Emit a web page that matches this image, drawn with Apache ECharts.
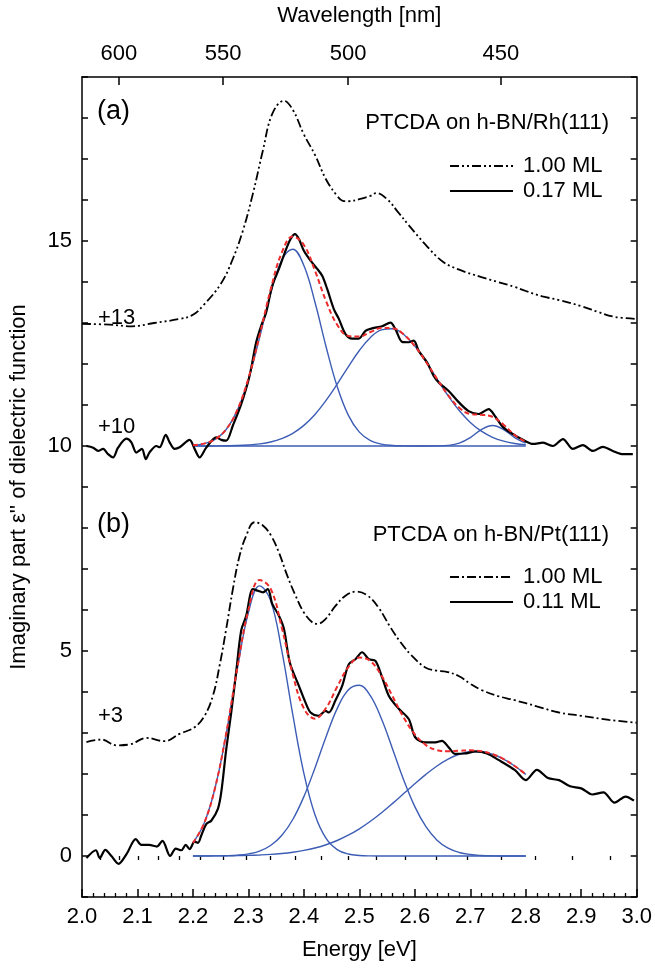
<!DOCTYPE html>
<html><head><meta charset="utf-8">
<script src="https://cdn.jsdelivr.net/npm/echarts@6/dist/echarts.min.js"></script>
<style>html,body{margin:0;padding:0;background:#fff}#c{width:655px;height:969px}</style>
</head><body><div id="c"></div>
<script>
// ---------------- DATA ----------------
// Offsets applied to the curves (as annotated)
const offA100 = 13, offA017 = 10, offB100 = 3, offB011 = 0;

// Panel (a): PTCDA on h-BN/Rh(111), 1.00 ML (raw, before +13)
const a100E = [2.00,2.05,2.09,2.13,2.176,2.20,2.22,2.25,2.27,2.29,2.308,2.326,2.343,2.364,2.38,2.40,2.42,2.44,2.46,2.47,2.48,2.50,2.52,2.53,2.55,2.57,2.59,2.62,2.65,2.68,2.72,2.75,2.78,2.80,2.83,2.86,2.90,2.93,2.96,3.00];
const a100Y = [-0.02,-0.04,-0.08,0.0,0.1,0.2,0.45,0.95,1.5,2.25,3.15,4.2,5.1,5.42,5.2,4.6,4.1,3.5,3.1,2.98,2.97,3.02,3.1,3.17,3.02,2.7,2.37,1.9,1.5,1.3,1.12,1.0,0.88,0.78,0.65,0.56,0.41,0.27,0.15,0.1];

// Panel (a): 0.17 ML (raw, before +10)
const a017E = [2.008,2.020,2.029,2.038,2.047,2.056,2.065,2.080,2.089,2.098,2.108,2.115,2.122,2.134,2.140,2.151,2.158,2.167,2.176,2.194,2.203,2.212,2.224,2.242,2.251,2.260,2.272,2.287,2.302,2.314,2.323,2.332,2.343,2.355,2.368,2.376,2.384,2.391,2.400,2.412,2.424,2.433,2.442,2.454,2.463,2.475,2.487,2.499,2.511,2.523,2.541,2.556,2.565,2.577,2.589,2.598,2.607,2.622,2.634,2.643,2.661,2.679,2.697,2.715,2.733,2.745,2.759,2.777,2.795,2.813,2.831,2.849,2.867,2.885,2.903,2.921,2.939,2.957,2.975,2.993];
const a017Y = [0.0,-0.04,-0.12,-0.07,-0.2,-0.28,-0.04,0.18,0.09,-0.16,-0.07,-0.32,-0.15,0.0,-0.03,0.27,0.09,-0.07,-0.03,0.15,-0.07,-0.28,-0.04,0.21,0.15,0.13,0.5,1.02,1.71,2.53,2.93,3.26,3.91,4.32,4.80,5.05,5.17,5.05,4.76,4.52,4.32,4.15,3.83,3.34,3.1,2.73,2.62,2.62,2.81,2.87,2.92,3.01,2.85,2.54,2.53,2.57,2.32,2.04,1.71,1.55,1.34,1.07,0.85,0.78,0.9,0.72,0.46,0.29,0.15,0.05,0.08,0.0,0.17,-0.07,0.02,-0.12,-0.02,-0.12,-0.2,-0.2];

// Energy grid of the Gaussian fits (both panels)
const fitE = [2.20,2.22,2.24,2.26,2.28,2.30,2.32,2.34,2.36,2.38,2.40,2.42,2.44,2.46,2.48,2.50,2.52,2.54,2.56,2.58,2.60,2.62,2.64,2.66,2.68,2.70,2.72,2.74,2.76,2.78,2.80];
// Panel (a) fit components (above baseline +10)
const aG1 = [0.017,0.057,0.162,0.403,0.869,1.625,2.637,3.712,4.531,4.80,4.40,3.506,2.422,1.45,0.754,0.339,0.133,0.045,0.013,0.004,0.001,0,0,0,0,0,0,0,0,0,0];
const aG2 = [0.000,0.001,0.002,0.005,0.011,0.025,0.051,0.098,0.180,0.310,0.503,0.770,1.111,1.508,1.931,2.329,2.647,2.834,2.86,2.718,2.435,2.056,1.635,1.225,0.865,0.575,0.361,0.213,0.119,0.062,0.031];
const aG3 = [0,0,0,0,0,0,0,0,0,0,0,0,0,0,0,0,0,0,0,0,0,0,0.002,0.014,0.068,0.206,0.40,0.5,0.40,0.206,0.068];
const aFit = [0.017,0.058,0.164,0.408,0.880,1.650,2.688,3.810,4.711,5.110,4.903,4.276,3.533,2.958,2.685,2.668,2.780,2.879,2.873,2.722,2.436,2.056,1.637,1.239,0.933,0.781,0.761,0.713,0.519,0.268,0.099];

// Panel (b): PTCDA on h-BN/Pt(111), 1.00 ML (raw, before +3)
const b100E = [2.008,2.035,2.062,2.086,2.116,2.149,2.176,2.203,2.221,2.236,2.248,2.260,2.272,2.284,2.296,2.311,2.326,2.341,2.355,2.370,2.385,2.400,2.415,2.424,2.439,2.457,2.475,2.495,2.515,2.535,2.555,2.575,2.595,2.619,2.640,2.655,2.679,2.70,2.72,2.75,2.78,2.82,2.86,2.90,2.95,3.00];
const b100Y = [-0.22,-0.16,-0.30,-0.28,-0.12,-0.2,-0.02,0.14,0.42,0.91,1.64,2.54,3.51,4.32,4.81,5.14,5.06,4.81,4.40,3.84,3.35,2.94,2.70,2.66,2.78,3.10,3.35,3.45,3.35,3.05,2.6,2.2,1.88,1.60,1.52,1.50,1.39,1.2,1.05,0.9,0.8,0.65,0.5,0.42,0.32,0.25];

// Panel (b): 0.11 ML
const b011E = [2.008,2.025,2.032,2.042,2.053,2.066,2.080,2.097,2.107,2.121,2.135,2.145,2.159,2.169,2.179,2.187,2.194,2.203,2.209,2.215,2.224,2.233,2.245,2.251,2.260,2.269,2.278,2.287,2.296,2.308,2.317,2.326,2.335,2.343,2.355,2.364,2.375,2.391,2.403,2.412,2.427,2.439,2.445,2.457,2.469,2.481,2.493,2.505,2.517,2.529,2.541,2.553,2.571,2.589,2.601,2.619,2.637,2.649,2.661,2.673,2.69,2.71,2.73,2.75,2.78,2.80,2.82,2.84,2.86,2.88,2.90,2.92,2.94,2.96,2.98,2.995];
const b011Y = [-0.05,0.14,-0.05,0.15,0.0,-0.19,0.04,0.41,0.27,0.27,0.23,0.37,0.0,0.18,0.14,0.27,0.17,0.35,0.32,0.5,0.78,0.86,1.15,1.55,2.6,3.5,4.5,5.5,5.86,6.51,6.47,6.43,6.51,6.15,5.86,5.54,4.7,4.15,3.74,3.5,3.42,3.54,3.5,3.8,4.15,4.68,4.8,4.97,4.8,4.76,4.36,3.91,3.59,3.34,2.89,2.77,2.77,2.81,2.65,2.49,2.5,2.55,2.5,2.35,2.1,1.85,2.1,1.9,1.85,1.7,1.65,1.5,1.55,1.3,1.45,1.35];
// Panel (b) fit components
const bG1 = [0.320,0.791,1.664,2.984,4.560,5.937,6.588,6.229,5.019,3.446,2.016,1.005,0.427,0.155,0.048,0.013,0.003,0.001,0,0,0,0,0,0,0,0,0,0,0,0,0];
const bG2 = [0.000,0.001,0.002,0.007,0.020,0.051,0.119,0.255,0.499,0.890,1.448,2.149,2.909,3.594,4.049,4.163,3.903,3.339,2.606,1.855,1.205,0.714,0.386,0.190,0.086,0.035,0.013,0.004,0.001,0,0];
const bG3 = [0.001,0.002,0.003,0.005,0.009,0.015,0.025,0.039,0.061,0.092,0.136,0.196,0.275,0.378,0.507,0.663,0.847,1.055,1.283,1.522,1.762,1.991,2.196,2.363,2.481,2.542,2.542,2.481,2.363,2.196,1.991];
const bFit = [0.321,0.794,1.669,2.996,4.589,6.003,6.732,6.523,5.579,4.428,3.600,3.350,3.611,4.127,4.604,4.839,4.753,4.395,3.889,3.377,2.967,2.705,2.582,2.553,2.567,2.577,2.555,2.485,2.364,2.196,1.991];

// Axes
const energyMin = 2.0, energyMax = 3.0, energyStep = 0.1;
const yMin = -1, yMax = 19;
const yLabelValues = [0, 5, 10, 15];
const wlLabels = [600, 550, 500, 450];
const wlMinor = [610,600,590,580,570,560,550,540,530,520,510,500,490,480,470,460,450,440,430,420];

// ---------------- CHART ----------------
const FONT = 'Liberation Sans, Arial, Helvetica, sans-serif';
const FS = 22;
const hc = 1239.84;
const toE = wl => hc / wl;
const zip = (E, Y, off) => E.map((e, i) => [e, Y[i] + off]);

const yTicks = [];
for (let v = yMin; v <= yMax; v++) yTicks.push(v);

const BLUE = '#3d5db5', RED = '#ec2b2b';
const dashDotDot = [9, 3, 2, 3, 2, 3];
const dashDot = [9, 3, 2, 3];

function line(data, color, width, type, z, smooth) {
  return { type: 'line', data, showSymbol: false, symbol: 'none', smooth: smooth === undefined ? 0.3 : smooth,
    lineStyle: { color, width, type }, z, silent: true, animation: false, clip: true };
}

const series = [
  line(zip(a100E, a100Y, offA100), '#000', 1.8, dashDotDot, 2, 0.4),
  line(zip(fitE, aG1, offA017), BLUE, 1.4, 'solid', 3, 0.4),
  line(zip(fitE, aG2, offA017), BLUE, 1.4, 'solid', 3, 0.4),
  line(zip(fitE, aG3, offA017), BLUE, 1.4, 'solid', 3, 0.4),
  line(zip(a017E, a017Y, offA017), '#000', 2.2, 'solid', 4, 0.3),
  line(zip(fitE, aFit, offA017), RED, 2, [5, 3], 5, 0.4),

  line(zip(b100E, b100Y, offB100), '#000', 1.8, dashDot, 2, 0.4),
  line(zip(fitE, bG1, offB011), BLUE, 1.4, 'solid', 3, 0.4),
  line(zip(fitE, bG2, offB011), BLUE, 1.4, 'solid', 3, 0.4),
  line(zip(fitE, bG3, offB011), BLUE, 1.4, 'solid', 3, 0.4),
  line(zip(b011E, b011Y, offB011), '#000', 2.2, 'solid', 4, 0.3),
  line(zip(fitE, bFit, offB011), RED, 2, [5, 3], 5, 0.4)
];

const axisLineStyle = { color: '#000', width: 1.5 };
const txt = { color: '#000', fontFamily: FONT, fontSize: FS };

function gText(text, x, y, opts) {
  return Object.assign({ type: 'text', x, y, silent: true,
    style: Object.assign({ text, fill: '#000', font: FS + 'px ' + FONT, textVerticalAlign: 'middle', textAlign: 'left' }, opts || {}) });
}
function gLine(x1, x2, y, dash) {
  return { type: 'line', silent: true, shape: { x1, y1: y, x2, y2: y },
    style: { stroke: '#000', lineWidth: dash ? 1.8 : 2.2, lineDash: dash || null } };
}

const option = {
  animation: false,
  backgroundColor: '#fff',
  grid: { left: 82, right: 16, top: 77, bottom: 72, containLabel: false },
  xAxis: [
    { type: 'value', position: 'bottom', min: energyMin, max: energyMax, interval: energyStep,
      axisLine: { show: true, onZero: false, lineStyle: axisLineStyle },
      axisTick: { show: true, inside: true, length: 8, lineStyle: { color: '#000', width: 1.5 } },
      minorTick: { show: true, splitNumber: 5, length: 4, lineStyle: { color: '#000', width: 1.3 } },
      axisLabel: Object.assign({ margin: 9, formatter: v => v.toFixed(1) }, txt),
      splitLine: { show: false },
      name: 'Energy [eV]', nameLocation: 'middle', nameGap: 42, nameTextStyle: txt },
    { type: 'value', position: 'top', min: energyMin, max: energyMax,
      axisLine: { show: true, onZero: false, lineStyle: axisLineStyle },
      axisTick: { show: true, inside: true, length: 8, customValues: wlLabels.map(toE), lineStyle: { color: '#000', width: 1.5 } },
      axisLabel: Object.assign({ margin: 12, customValues: wlLabels.map(toE), formatter: v => String(Math.round(hc / v)) }, txt),
      splitLine: { show: false },
      name: 'Wavelength [nm]', nameLocation: 'middle', nameGap: 50, nameTextStyle: txt },
    { type: 'value', position: 'top', min: energyMin, max: energyMax,
      axisLine: { show: false },
      axisTick: { show: true, inside: true, length: 4, customValues: wlMinor.map(toE), lineStyle: { color: '#000', width: 1.3 } },
      axisLabel: { show: false }, splitLine: { show: false } }
  ],
  yAxis: [
    { type: 'value', position: 'left', min: yMin, max: yMax,
      axisLine: { show: true, onZero: false, lineStyle: axisLineStyle },
      axisTick: { show: true, inside: true, length: 6, customValues: yTicks, lineStyle: { color: '#000', width: 1.5 } },
      axisLabel: Object.assign({ margin: 10, customValues: yLabelValues }, txt),
      splitLine: { show: false },
      name: "Imaginary part \u03b5'' of dielectric function", nameLocation: 'middle', nameGap: 52, nameRotate: 90,
      nameTextStyle: txt },
    { type: 'value', position: 'right', min: yMin, max: yMax,
      axisLine: { show: true, onZero: false, lineStyle: axisLineStyle },
      axisTick: { show: true, inside: true, length: 6, customValues: yTicks, lineStyle: { color: '#000', width: 1.5 } },
      axisLabel: { show: false }, splitLine: { show: false } }
  ],
  series: series.map(s => Object.assign(s, { xAxisIndex: 0, yAxisIndex: 0 })),
  graphic: [
    gText('(a)', 97, 112, { font: '27px ' + FONT }),
    gText('(b)', 97, 525, { font: '27px ' + FONT }),
    gText('+' + offA100, 98, 318),
    gText('+' + offA017, 98, 427),
    gText('+' + offB100, 98, 716),
    gText('PTCDA on h-BN/Rh(111)', 609, 123, { textAlign: 'right' }),
    gLine(450, 513, 166, dashDotDot),
    gText('1.00 ML', 523, 166),
    gLine(450, 513, 191, null),
    gText('0.17 ML', 523, 191),
    gText('PTCDA on h-BN/Pt(111)', 609, 535, { textAlign: 'right' }),
    gLine(450, 513, 577, dashDot),
    gText('1.00 ML', 523, 577),
    gLine(450, 513, 602, null),
    gText('0.11 ML', 523, 602)
  ]
};

const chart = echarts.init(document.getElementById('c'), null, { renderer: 'canvas' });
chart.setOption(option);
</script></body></html>
